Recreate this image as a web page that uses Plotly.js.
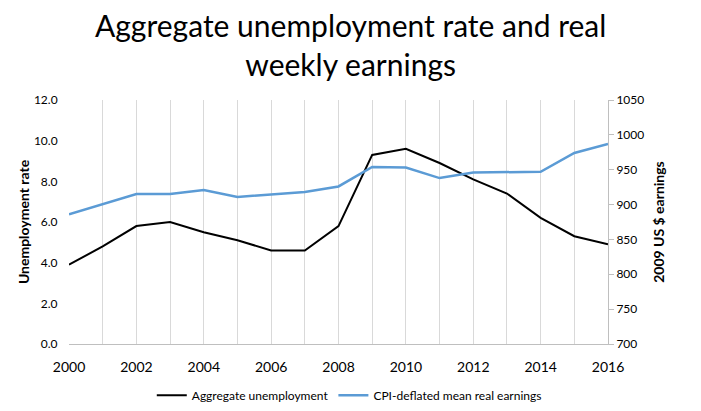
<!DOCTYPE html>
<html>
<head>
<meta charset="utf-8">
<script src="https://cdn.plot.ly/plotly-3.0.1.min.js"></script>
<style>html,body{margin:0;padding:0;background:#fff;}#chart{width:701px;height:411px;}</style>
</head>
<body>
<div id="chart"></div>
<script>
const years = [2000,2001,2002,2003,2004,2005,2006,2007,2008,2009,2010,2011,2012,2013,2014,2015,2016];
const unemployment = [3.9,4.8,5.8,6.0,5.5,5.1,4.6,4.6,5.8,9.3,9.6,8.9,8.1,7.4,6.2,5.3,4.9];
const earnings = [886,901,915,915,921,911,914,918,926,954,953,938,946,947,947,974,987];
const xTickVals = [2000,2002,2004,2006,2008,2010,2012,2014,2016];
const titleText = 'Aggregate unemployment rate and real<br>weekly earnings';

const font = "Lato, 'Open Sans', sans-serif";
const traces = [
  {x: years, y: unemployment, name: 'Aggregate unemployment', type: 'scatter', mode: 'lines',
   line: {color: '#000000', width: 2}, yaxis: 'y'},
  {x: years, y: earnings, name: 'CPI-deflated mean real earnings', type: 'scatter', mode: 'lines',
   line: {color: '#5b9bd5', width: 2.5}, yaxis: 'y2'}
];
const layout = {
  width: 701, height: 411,
  margin: {l: 69, r: 93, t: 100, b: 67, autoexpand: false},
  paper_bgcolor: '#fff', plot_bgcolor: '#fff',
  font: {family: font, color: '#000'},
  annotations: [{text: titleText, xref: 'paper', yref: 'paper', x: 0.523, y: 1.226,
                 xanchor: 'center', yanchor: 'middle', showarrow: false,
                 font: {size: 30, color: '#000', family: font}}],
  showlegend: true,
  legend: {orientation: 'h', x: 0.52, xanchor: 'center', y: -0.21, yanchor: 'middle',
           font: {size: 12, color: '#000'}, itemwidth: 30, tracegroupgap: 0},
  xaxis: {range: [2000, 2016], tickvals: xTickVals, ticktext: xTickVals.map(String),
          showgrid: true, gridcolor: '#d9d9d9', gridwidth: 1,
          minor: {dtick: 1, tick0: 2000, showgrid: true, gridcolor: '#d9d9d9', gridwidth: 1},
          showline: true, linecolor: '#bfbfbf', linewidth: 1,
          ticks: 'outside', ticklen: 10, tickcolor: 'rgba(0,0,0,0)', zeroline: false,
          tickfont: {size: 14, color: '#000'}, automargin: false},
  yaxis: {range: [0, 12], dtick: 2, tick0: 0, tickformat: '.1f', showgrid: false, zeroline: false,
          showline: false, ticks: 'outside', ticklen: 8, tickcolor: 'rgba(0,0,0,0)',
          tickfont: {size: 12, color: '#000'}, automargin: false,
          title: {text: '<b>Unemployment rate</b>', font: {size: 14, color: '#000'}, standoff: 0}},
  yaxis2: {range: [700, 1050], dtick: 50, tick0: 700, overlaying: 'y', side: 'right',
           showgrid: false, zeroline: false, showline: true, linecolor: '#bfbfbf', linewidth: 1,
           ticks: 'outside', ticklen: 5, tickcolor: '#bfbfbf', tickfont: {size: 12, color: '#000'},
           automargin: false,
           title: {text: '<b>2009 US $ earnings</b>', font: {size: 14, color: '#000'}, standoff: 10}}
};
Plotly.newPlot('chart', traces, layout, {displayModeBar: false, staticPlot: true});
</script>
</body>
</html>
